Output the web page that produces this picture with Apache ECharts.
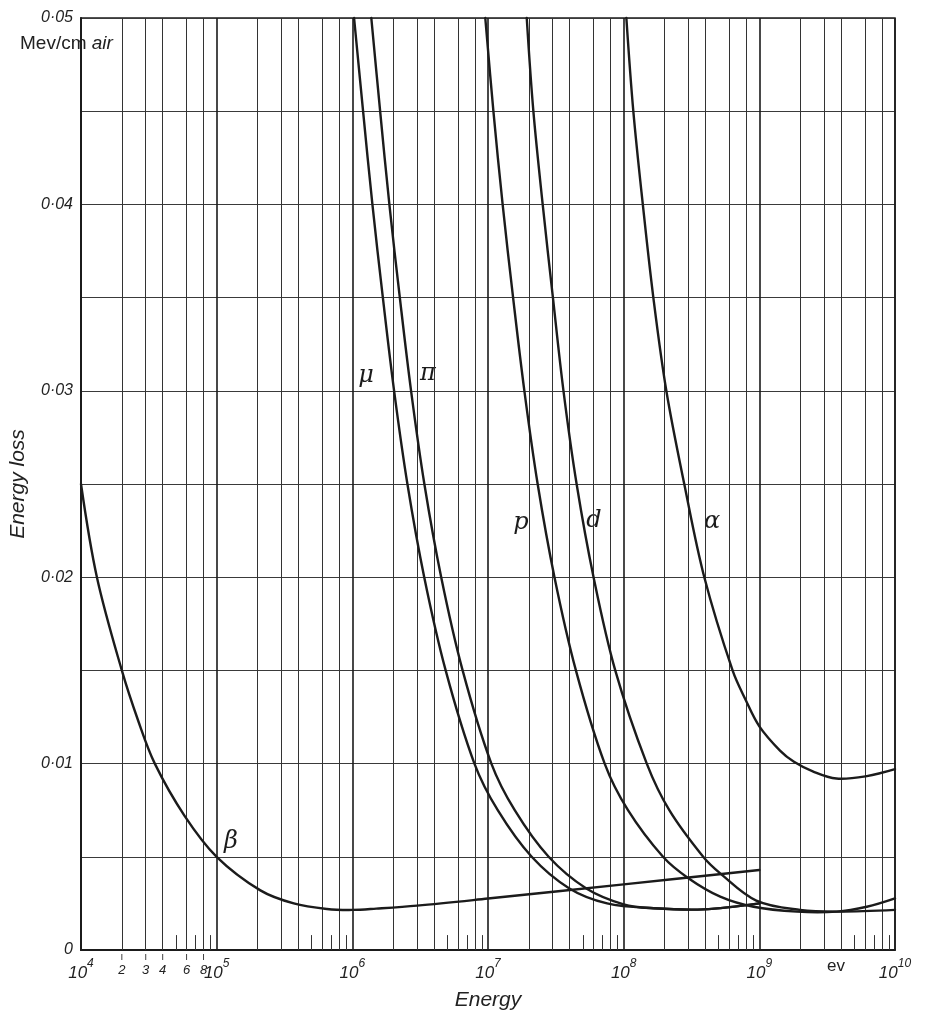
<!DOCTYPE html>
<html><head><meta charset="utf-8">
<script src="https://cdn.jsdelivr.net/npm/echarts@6/dist/echarts.min.js"></script>
<style>html,body{margin:0;padding:0;background:#fff}#c{width:952px;height:1024px}</style>
</head><body><div id="c"></div>
<script>
// ---- data (energy in eV, energy loss in MeV/cm air) ----
const betaE = [1e4, 1.31e4, 2e4, 2.64e4, 3.5e4, 5.8e4, 1e5, 2.1e5, 3.7e5, 6.5e5, 1e6, 1.5e6, 3e6, 1e7, 1e8, 1e9];
const betaV = [0.025, 0.02, 0.015, 0.0123, 0.01, 0.0072, 0.005, 0.0032, 0.0025, 0.0022, 0.00215, 0.00222, 0.00238, 0.00276, 0.00352, 0.00429];
const muE = [1.03e6, 1.2e6, 1.406e6, 1.679e6, 2.032e6, 2.547e6, 3.388e6, 4.875e6, 7.943e6, 1.18e7, 2.099e7, 3.98e7, 7.55e7, 1.66e8, 3.88e8, 1e9];
const muV = [0.05, 0.045, 0.04, 0.035, 0.03, 0.025, 0.02, 0.015, 0.01, 0.0075, 0.005, 0.0033, 0.0025, 0.00224, 0.00218, 0.0025];
const piE = [1.38e6, 1.603e6, 1.875e6, 2.239e6, 2.71e6, 3.396e6, 4.519e6, 6.501e6, 1.059e7, 1.574e7, 2.799e7, 5.309e7, 1e8, 1.66e8, 3.88e8, 1e9];
const piV = [0.05, 0.045, 0.04, 0.035, 0.03, 0.025, 0.02, 0.015, 0.01, 0.0075, 0.005, 0.0033, 0.00245, 0.00224, 0.00218, 0.0025];
const pE = [9.55e6, 1.096e7, 1.282e7, 1.531e7, 1.854e7, 2.323e7, 3.09e7, 4.446e7, 7.244e7, 1.076e8, 1.95e8, 3e8, 5.15e8, 9.06e8, 1.89e9, 3.72e9, 6.2e9, 1e10];
const pV = [0.05, 0.045, 0.04, 0.035, 0.03, 0.025, 0.02, 0.015, 0.01, 0.0075, 0.005, 0.00385, 0.00286, 0.00232, 0.00206, 0.00206, 0.00232, 0.00277];
const dE = [1.93e7, 2.16e7, 2.53e7, 3.01e7, 3.6e7, 4.5e7, 6e7, 8.67e7, 1.48e8, 2.17e8, 3.855e8, 5.15e8, 9.5e8, 2e9, 3.9e9, 1e10];
const dV = [0.05, 0.045, 0.04, 0.035, 0.03, 0.025, 0.02, 0.015, 0.01, 0.0075, 0.005, 0.00411, 0.00265, 0.00215, 0.00206, 0.00215];
const alphaE = [1.047e8, 1.178e8, 1.384e8, 1.655e8, 2.063e8, 2.797e8, 3.93e8, 6.35e8, 7.95e8, 1e9, 1.42e9, 1.8e9, 2.5e9, 3.7e9, 6.2e9, 1e10];
const alphaV = [0.05, 0.045, 0.04, 0.035, 0.03, 0.025, 0.02, 0.015, 0.0134, 0.012, 0.0107, 0.0101, 0.00957, 0.0092, 0.00933, 0.0097];

const xMin = 1e4, xMax = 1e10;
const gridMantissas = [2, 3, 4, 6, 8];        // full-height grid lines in every decade
const shortTickMantissas = [5, 7, 9];         // short ticks at the bottom
const firstDecadeLabels = ['2', '3', '4', '6', '8'];
const yLabelStep = 0.01;

const INK = '#1b1b1b';
const FONT = 'Liberation Sans';

function pairs(E, V) { return E.map((e, i) => [e, V[i]]); }

const fullLines = [], shortTicks = [];
for (let k = 4; k < 10; k++) {
  for (const m of gridMantissas) fullLines.push({ xAxis: m * Math.pow(10, k) });
  for (const m of shortTickMantissas) {
    const v = m * Math.pow(10, k);
    shortTicks.push([{ coord: [v, 0] }, { coord: [v, 0.0008] }]);
  }
}

// each curve: one smooth polyline through its data points, positioned by the axes' scales
function curve(name, E, V) {
  const data = pairs(E, V);
  return {
    name, type: 'custom', coordinateSystem: 'cartesian2d', silent: true, z: 5,
    encode: { x: 0, y: 1 },
    data,
    renderItem: (params, api) => {
      if (params.dataIndex !== 0) return null;
      const pts = data.map(d => api.coord(d));
      return {
        type: 'polyline',
        shape: { points: pts, smooth: 0.35 },
        style: { stroke: INK, lineWidth: 2.4, fill: 'none', lineJoin: 'round', lineCap: 'round' }
      };
    }
  };
}

const chart = echarts.init(document.getElementById('c'), null, { renderer: 'canvas' });

const option = {
  animation: false,
  backgroundColor: '#fff',
  grid: { left: 80, right: 57, top: 18, bottom: 74, show: true, borderColor: INK, borderWidth: 1.5, backgroundColor: 'transparent' },
  xAxis: {
    type: 'log', logBase: 10, min: xMin, max: xMax,
    axisLine: { show: true, lineStyle: { color: INK, width: 2 } },
    axisTick: { show: false },
    splitLine: { show: true, lineStyle: { color: INK, width: 1.6 } },
    axisLabel: {
      margin: 8, color: '#222',
      formatter: v => '{b|10}{s|' + Math.round(Math.log10(v)) + '}',
      rich: {
        b: { fontFamily: FONT, fontStyle: 'italic', fontSize: 17, color: '#222', lineHeight: 24, verticalAlign: 'bottom' },
        s: { fontFamily: FONT, fontStyle: 'italic', fontSize: 12, color: '#222', lineHeight: 24, verticalAlign: 'top' }
      }
    },
    name: 'Energy', nameLocation: 'middle', nameGap: 40,
    nameTextStyle: { fontFamily: FONT, fontStyle: 'italic', fontSize: 21, color: '#222' }
  },
  yAxis: {
    type: 'value', min: 0, max: 0.05, interval: 0.005,
    axisLine: { show: true, lineStyle: { color: INK, width: 2 } },
    axisTick: { show: false },
    splitLine: { show: true, lineStyle: { color: '#3a3a3a', width: 1 } },
    axisLabel: {
      margin: 8, color: '#222', fontFamily: FONT, fontStyle: 'italic', fontSize: 16,
      showMaxLabel: true, showMinLabel: true,
      formatter: v => {
        const n = Math.round(v / yLabelStep);
        if (Math.abs(v - n * yLabelStep) > 1e-9) return '';
        return n === 0 ? '0' : '0·0' + n;
      }
    },
    name: 'Energy loss', nameLocation: 'middle', nameGap: 52, nameRotate: 90,
    nameTextStyle: { fontFamily: FONT, fontStyle: 'italic', fontSize: 21, color: '#222' }
  },
  series: [
    {
      name: 'grid', type: 'line', data: [], silent: true, z: 1,
      markLine: {
        silent: true, symbol: ['none', 'none'], label: { show: false }, animation: false,
        lineStyle: { color: '#333', width: 1, type: 'solid' },
        data: fullLines.concat(shortTicks)
      }
    },
    curve('β', betaE, betaV),
    curve('μ', muE, muV),
    curve('π', piE, piV),
    curve('p', pE, pV),
    curve('d', dE, dV),
    curve('α', alphaE, alphaV)
  ]
};
chart.setOption(option);

// labels placed from the axis scale
const graphics = [];
const yAxisPix = chart.convertToPixel({ yAxisIndex: 0 }, 0);
for (let i = 0; i < gridMantissas.length; i++) {
  const px = chart.convertToPixel({ xAxisIndex: 0 }, gridMantissas[i] * xMin);
  graphics.push({ type: 'line', silent: true, shape: { x1: px, y1: yAxisPix + 4, x2: px, y2: yAxisPix + 10 }, style: { stroke: '#444', lineWidth: 1 } });
  graphics.push({ type: 'text', silent: true, x: px, y: yAxisPix + 14, style: { text: firstDecadeLabels[i], fontFamily: FONT, fontStyle: 'italic', fontSize: 13, fill: '#222', align: 'center', verticalAlign: 'top' } });
}
const gl = (t, x, y, size, fam, style) => ({ type: 'text', silent: true, x, y, style: { text: t, fontFamily: fam || 'DejaVu Serif', fontStyle: style || 'italic', fontSize: size || 24, fill: '#1b1b1b', align: 'center', verticalAlign: 'middle' } });
graphics.push(gl('μ', 366, 376));
graphics.push(gl('π', 428, 374));
graphics.push(gl('p', 521, 523));
graphics.push(gl('d', 594, 521));
graphics.push(gl('α', 712, 522));
graphics.push(gl('β', 231, 842));
graphics.push({ type: 'text', silent: true, x: 836, y: 966, style: { text: 'ev', fontFamily: FONT, fontSize: 17, fill: '#222', align: 'center', verticalAlign: 'middle' } });
graphics.push({ type: 'text', silent: true, x: 20, y: 44, style: {
  text: '{a|Mev/cm}{b| air}', fontFamily: FONT, verticalAlign: 'middle', align: 'left',
  rich: { a: { fontFamily: FONT, fontSize: 19, fill: '#222' }, b: { fontFamily: FONT, fontStyle: 'italic', fontSize: 19, fill: '#222' } }
} });
chart.setOption({ graphic: graphics });
</script>
</body></html>
